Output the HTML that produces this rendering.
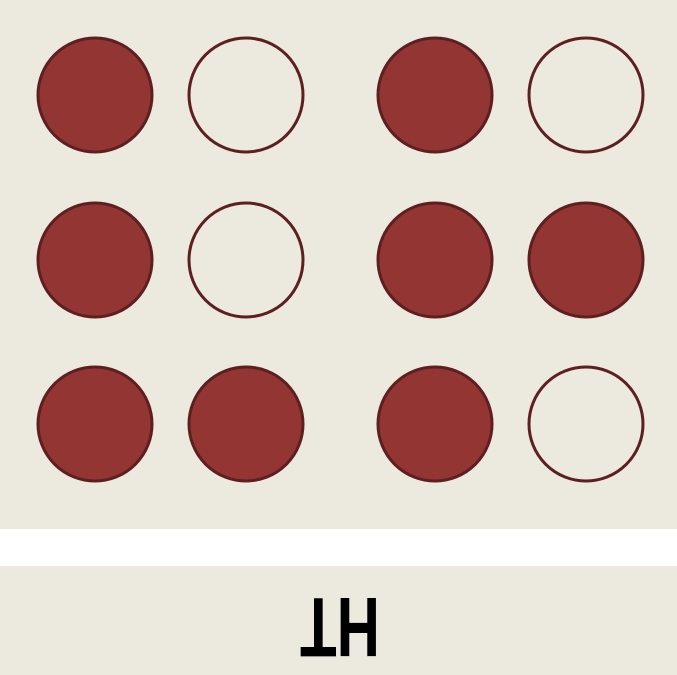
<!DOCTYPE html>
<html><head><meta charset="utf-8"><style>
html,body{margin:0;padding:0;background:#fff;width:677px;height:675px;overflow:hidden}
svg{display:block}
</style></head><body>
<svg width="677" height="675">
<rect x="0" y="0" width="677" height="529" fill="#ECE9DF"/>
<rect x="0" y="566" width="677" height="109" fill="#ECE9DF"/>
<g id="dots"></g>
<text x="300" y="-598" textLength="80" lengthAdjust="spacingAndGlyphs" transform="scale(1,-1)" font-family="Liberation Sans, sans-serif" font-weight="bold" font-size="84" fill="#000">TH</text>
</svg>
<script>
const cellsX=[95,246,435,586];
const rowsY=[95,260,424];
const filled=[[1,0,1,0],[1,0,1,1],[1,1,1,0]];
const g=document.getElementById('dots');
rowsY.forEach((y,r)=>cellsX.forEach((x,c)=>{
 const el=document.createElementNS('http://www.w3.org/2000/svg','circle');
 el.setAttribute('cx',x);el.setAttribute('cy',y);el.setAttribute('r',57);
 el.setAttribute('fill',filled[r][c]?'#933533':'none');
 el.setAttribute('stroke','#5E1F20');el.setAttribute('stroke-width','3');
 
 
 g.appendChild(el);
}));
</script>
</body></html>
